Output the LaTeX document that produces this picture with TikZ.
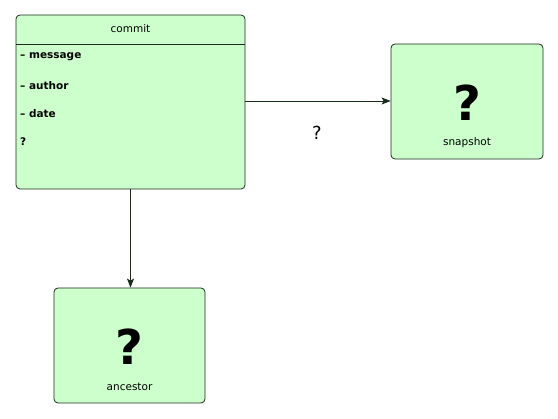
\documentclass[tikz,border=0pt]{standalone}
\usepackage{fontspec}
\setmainfont{DejaVu Sans}
\usepackage{tikz}
\usetikzlibrary{arrows.meta,positioning,calc}
\definecolor{boxfill}{HTML}{CCFFCC}
\definecolor{boxline}{HTML}{1A2A1A}
\newcommand{\boxround}{4pt}
\tikzset{
  umlbox/.style={draw=boxline, fill=boxfill, rounded corners=\boxround, line width=0.8pt, inner sep=0pt},
  field/.style={anchor=west, font=\fontsize{10.5}{12}\selectfont\bfseries, inner sep=0pt},
  bigq/.style={font=\fontsize{48}{52}\selectfont\bfseries, inner sep=0pt},
  caption/.style={font=\fontsize{10.5}{12}\selectfont, inner sep=0pt},
  link/.style={draw=boxline, line width=0.8pt, -{Stealth[length=9pt,width=7pt,inset=2pt]}}
}
\begin{document}
\begin{tikzpicture}[x=1pt,y=-1pt]
\useasboundingbox (0,0) rectangle (558,419);
\node[umlbox, minimum width=229pt, minimum height=174pt] (commit) at (130.5,102) {};
\node[umlbox, minimum width=152pt, minimum height=115pt] (snapshot) at (467,101.5) {};
\node[umlbox, minimum width=151pt, minimum height=115pt] (ancestor) at (129.5,345.5) {};
% header of commit
\node[caption] (title) at (130.5,29) {commit};
\draw[boxline, line width=0.8pt] (commit.west |- 0,44) -- (commit.east |- 0,44);
\node[field] (f1) at (20,57) {– message};
\node[field] (f2) at (20,86) {– author};
\node[field] (f3) at (20,114) {– date};
\node[field] (f4) at (20,142) {?};
% snapshot and ancestor
\node[bigq] (q1) at (467,103) {?};
\node[caption] (s) at (467,143) {snapshot};
\node[bigq] (q2) at (129.5,347) {?};
\node[caption] (a) at (129.5,387) {ancestor};
% connectors
\draw[link] (commit.east |- 0,101) -- (snapshot.west |- 0,101);
\node[font=\fontsize{18}{20}\selectfont, inner sep=0pt] (lbl) at (317,133) {?};
\coordinate (down) at (commit.south);
\draw[link] (down) -- (down |- ancestor.north);
\end{tikzpicture}
\end{document}
